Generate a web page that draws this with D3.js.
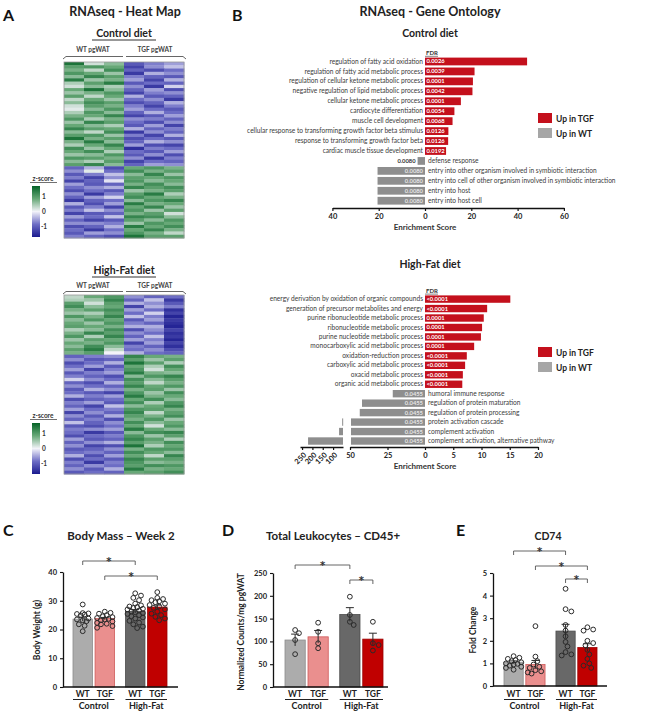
<!DOCTYPE html>
<html><head><meta charset="utf-8">
<script src="https://cdn.jsdelivr.net/npm/d3@7"></script>
<style>body{margin:0;background:#fff}svg{font-family:Lato,'Open Sans',sans-serif}</style>
</head><body><svg id="c" width="650" height="714"></svg>
<script>
// ---------------- DATA ----------------
const heatColumns = ["WT1","WT2","WT3","TGF1","TGF2","TGF3"];
const heatControl = [
[1.4,0.2,0.6,-1.0,-0.7,-0.5],[0.9,1.0,0.8,-1.2,-0.6,-0.3],[0.7,0.3,1.1,-0.9,-1.1,-0.8],[1.0,0.8,0.5,-1.3,-0.4,-0.6],
[0.6,1.2,0.9,-0.7,-0.9,-1.0],[1.3,0.5,0.7,-0.5,-1.2,-0.4],[0.4,0.9,1.3,-1.0,-0.8,-0.9],[0.2,0.6,0.4,-0.6,-1.3,-0.2],
[0.8,1.4,0.6,-0.9,-0.5,-1.1],[0.5,0.7,1.0,-1.2,-0.7,-0.6],[0.9,0.3,0.8,-0.4,-1.0,-0.9],[0.3,0.8,0.5,-0.8,-0.6,-1.3],
[0.6,1.1,0.9,-1.1,-0.9,-0.4],[0.2,0.9,0.7,-0.7,-1.2,-0.7],[0.1,0.6,1.0,-0.5,-0.8,-1.0],[0.4,1.0,0.6,-0.9,-0.4,-0.8],
[0.7,0.8,1.2,-1.2,-1.0,-0.5],[1.0,0.4,0.7,-0.6,-0.7,-0.9],[0.5,1.2,0.9,-0.8,-1.1,-0.6],[0.8,0.6,0.4,-1.0,-0.5,-1.2],
[1.2,0.9,0.8,-0.4,-0.9,-0.7],[0.6,0.3,1.1,-1.3,-0.6,-0.9],[0.9,1.0,0.5,-0.7,-1.2,-0.4],[1.4,0.7,0.9,-1.1,-0.8,-1.0],
[0.7,1.3,0.6,-0.9,-0.4,-0.6],[0.4,0.8,1.2,-0.5,-1.1,-1.2],[1.1,0.5,0.8,-1.4,-0.7,-0.8],[0.8,1.1,0.4,-0.8,-1.0,-0.5],
[0.5,0.6,1.0,-1.0,-0.6,-1.1],[1.0,0.9,0.7,-0.6,-1.3,-0.7],[0.6,0.4,0.9,-1.2,-0.8,-0.9],[0.9,1.2,0.6,-0.9,-0.5,-0.6],
[-0.9,-0.4,-1.1,0.8,1.0,0.7],[-0.6,0.1,-0.8,1.1,0.7,0.9],[-1.0,-0.7,-0.3,0.6,1.2,0.5],[-0.7,-1.2,-0.6,0.9,0.8,1.0],
[-1.2,-0.9,-0.1,1.0,0.6,0.8],[-0.5,-1.0,-0.9,0.7,1.1,0.6],[-0.8,-0.6,-0.4,1.2,0.9,1.1],[-1.1,-0.8,-1.0,0.5,0.7,0.9],
[-0.6,-1.3,-0.7,0.9,1.3,0.4],[-0.9,-0.5,-0.2,1.1,0.8,0.7],[-1.3,-0.9,-0.8,0.6,1.0,1.2],[-0.4,-1.1,-0.5,1.3,0.7,0.8],
[-1.0,-0.7,-1.2,0.8,1.2,0.5],[-0.7,-0.3,-0.6,1.0,0.5,0.9],[-1.2,-1.0,-0.9,0.7,0.9,0.2],[-0.5,-0.8,-0.3,1.2,1.1,0.6],
[-0.9,-1.2,-1.0,0.9,0.6,1.0],[-0.6,-0.6,-0.7,0.5,1.0,0.8],[-1.1,-0.9,-0.4,1.3,0.8,1.1],[-0.8,-1.3,-0.8,0.8,1.2,0.7],
[-1.0,-0.5,-0.6,1.0,0.7,0.3],[-0.7,-0.9,-1.1,1.4,0.9,0.9]];
const heatHighFat = [
[0.3,0.8,1.0,-0.6,-0.9,-0.8],[0.4,0.5,1.2,-0.9,-0.3,-1.3],[0.9,0.2,0.9,-0.4,-0.6,-1.0],[1.1,0.6,0.8,-1.2,-0.4,-0.7],
[0.7,0.9,1.1,-0.5,-0.8,-1.4],[0.5,0.4,0.9,-0.8,-0.2,-1.2],[1.0,0.7,1.2,-0.3,-0.7,-1.5],[0.6,1.0,0.8,-1.0,-0.5,-1.3],
[0.8,0.5,1.0,-0.7,-0.9,-1.4],[0.9,0.8,0.7,-0.4,-0.4,-1.5],[0.4,0.6,1.1,-1.1,-0.6,-1.2],[0.7,1.2,0.9,-0.6,-0.8,-1.4],
[1.0,0.4,1.2,-0.9,-0.3,-1.3],[0.5,0.9,0.8,-0.5,-0.7,-1.5],[0.8,0.7,1.0,-1.2,-0.5,-1.2],[0.6,1.1,0.6,-0.7,-0.9,-1.4],
[0.9,1.3,0.3,-0.8,-0.6,-1.1],[0.7,0.9,0.0,-0.4,-0.8,-0.9],
[-0.9,-0.7,-0.6,1.2,0.8,0.7],[-0.6,-1.0,-0.9,0.9,0.5,0.9],[-1.1,-0.8,-0.4,1.4,0.9,0.4],[-0.8,-0.5,-1.0,0.8,0.4,1.1],
[-0.5,-1.2,-0.7,1.0,0.2,0.8],[-1.0,-0.7,-0.5,1.3,0.7,0.6],[-0.7,-0.9,-1.1,0.6,1.0,1.2],[-0.2,-0.6,-0.8,1.1,0.6,0.9],
[-0.9,-1.1,-0.4,0.9,0.3,0.7],[-0.6,-0.8,-0.9,1.2,0.8,1.0],[-1.0,-0.4,-0.6,0.7,0.9,0.5],[-0.8,-1.0,-1.2,1.0,0.5,1.1],
[-0.4,-0.7,-0.5,1.3,0.7,0.8],[-1.1,-0.9,-0.8,0.8,1.1,0.6],[-0.7,-0.5,-1.0,1.1,0.4,1.0],[-0.9,-1.2,-0.3,0.6,0.8,1.2],
[-0.5,-0.8,-0.7,1.0,0.9,0.7],[-1.2,-0.6,-0.9,1.2,0.3,0.9],[-0.6,-1.0,-0.4,0.9,0.7,1.1],[-0.9,-0.7,-1.1,0.7,1.0,0.5],
[-0.3,-0.9,-0.6,1.1,0.6,0.8],[-1.0,-1.1,-0.8,0.8,0.2,1.0],[-0.7,-0.6,-0.5,1.3,0.8,0.6],[-0.8,-1.3,-1.0,0.6,1.1,1.2],
[-1.1,-0.8,-0.7,1.0,0.5,0.9],[-0.5,-1.0,-0.9,1.2,0.9,0.4],[-0.9,-0.6,-0.4,0.9,0.7,1.1],[-0.6,-1.2,-1.1,1.4,0.4,0.8],
[-1.0,-0.9,-0.6,0.7,1.0,1.0],[-0.8,-0.7,-0.9,1.1,0.8,0.6],[-0.4,-1.1,-0.5,0.8,0.3,1.2],[-1.1,-0.8,-1.0,1.2,0.9,0.9],
[-0.7,-1.3,-0.7,1.0,0.6,0.7],[-0.9,-0.6,-0.8,0.9,1.1,1.0],[-0.6,-1.0,-0.4,1.3,0.7,0.8],[-1.0,-0.8,-0.9,0.8,0.9,1.1]];
const zScoreTicks = [1,0,-1];

const goControlTerms = ["regulation of fatty acid oxidation","regulation of fatty acid metabolic process","regulation of cellular ketone metabolic process","negative regulation of lipid metabolic process","cellular ketone metabolic process","cardiocyte differentiation","muscle cell development","cellular response to transforming growth factor beta stimulus","response to transforming growth factor beta","cardiac muscle tissue development","defense response","entry into other organism involved in symbiotic interaction","entry into cell of other organism involved in symbiotic interaction","entry into host","entry into host cell"];
const goControlScores = [44.1,21.4,20.7,20.5,15.5,12.7,11.9,10.1,10.0,9.1,-3.2,-20.5,-20.5,-20.5,-20.5];
const goControlFDR = ["0.0026","0.0039","0.0001","0.0042","0.0001","0.0054","0.0068","0.0126","0.0126","0.0192","0.0080","0.0080","0.0080","0.0080","0.0080"];
const goControlTicks = [-40,-20,0,20,40,60];

const goHFTerms = ["energy derivation by oxidation of organic compounds","generation of precursor metabolites and energy","purine ribonucleotide metabolic process","ribonucleotide metabolic process","purine nucleotide metabolic process","monocarboxylic acid metabolic process","oxidation-reduction process","carboxylic acid metabolic process","oxacid metabolic process","organic acid metabolic process","humoral immune response","regulation of protein maturation","regulation of protein processing","protein activation cascade","complement activation","complement activation, alternative pathway"];
const goHFScores = [15.1,11.0,10.4,10.1,9.9,8.7,7.4,7.1,6.7,6.6,-21.5,-42,-43.5,-56,-71,-221];
const goHFFDR = ["<0.0001","<0.0001","0.0001","0.0001","0.0001","0.0001","<0.0001","<0.0001","<0.0001","<0.0001","0.0455","0.0455","0.0455","0.0455","0.0455","0.0455"];
const goHFTicksMain = [-50,-25,0,5,10,15,20];
const goHFTicksBreak = [-250,-200,-150,-100];
const goLegend = ["Up in TGF","Up in WT"];

const diets = ["Control","High-Fat"];
const genotypes = ["WT","TGF"];
const bodyMassMean = [23.6,23.8,26.3,27.8];
const bodyMassSEM = [0.7,0.4,0.6,0.7];
const bodyMassPoints = [
 [28.7,25.7,25.4,25.2,25.6,24.9,23.8,23.2,23.5,22.9,21.3,21.8,19.4],
 [26.2,25.8,25.5,25.0,24.6,24.3,24.0,23.7,23.5,23.2,22.8,22.3,21.8,21.2,20.6,22.0],
 [32.6,31.8,31.0,30.2,29.0,28.4,28.0,27.8,27.5,27.2,27.0,26.6,26.3,26.0,25.7,25.4,25.0,24.6,24.2,23.8,23.0,22.4,21.8,21.0,20.5],
 [33.0,31.0,30.6,30.2,29.8,29.5,29.0,28.5,28.0,27.5,27.0,26.2,25.5,25.0,24.4,23.8,23.2]];
const bodyMassTicks = [0,10,20,30,40];

const cd45Mean = [103,110,159,105];
const cd45SEM = [13,14,15,13];
const cd45Points = [[125,118,103,72],[141,121,96,85],[198,158,143,136],[143,96,92,80]];
const cd45Ticks = [0,50,100,150,200,250];

const cd74Mean = [1.05,0.95,2.43,1.70];
const cd74SEM = [0.06,0.18,0.3,0.17];
const cd74Points = [
 [1.32,1.25,1.2,1.15,1.1,1.05,1.0,0.98,0.95,0.9,0.85,0.8,0.72],
 [2.65,1.3,1.1,0.95,0.85,0.8,0.7,0.65,0.6,0.55],
 [4.3,3.4,3.3,2.7,2.45,2.2,1.95,1.75,1.5,1.4,1.35],
 [2.6,2.5,2.45,2.0,1.9,1.8,1.6,1.4,1.2,1.0,0.9,0.8]];
const cd74Ticks = [0,1,2,3,4,5];

// ---------------- DRAWING ----------------
const svg = d3.select("#c");
function text(g, x, y, s, o = {}) {
  const t = g.append("text").attr("x", x).attr("y", y).text(s)
    .attr("font-size", o.size || 8).attr("font-weight", o.weight || "normal")
    .attr("text-anchor", o.anchor || "start").attr("fill", o.fill || "#222");
  if (o.family) t.attr("font-family", o.family);
  return t;
}
const heatColor = d3.scaleLinear().domain([-1.6,-0.8,0,0.8,1.6])
  .range(["#1b1b8f","#6d6dc5","#f3f3f9","#67a877","#046226"]).clamp(true);

// Panel letters & titles
text(svg, 3, 21, "A", {size: 16, weight: "bold", fill: "#111"});
text(svg, 125, 16, "RNAseq - Heat Map", {size: 12.5, weight: "bold", anchor: "middle"});
text(svg, 232, 21, "B", {size: 16, weight: "bold", fill: "#111"});
text(svg, 430, 16, "RNAseq - Gene Ontology", {size: 12.5, weight: "bold", anchor: "middle"});

function heatmap(data, c) {
  const g = svg.append("g");
  const x = d3.scaleBand().domain(heatColumns).range([64, 184]);
  const y = d3.scaleBand().domain(d3.range(data.length)).range([c.top, c.bottom]);
  data.forEach((row, i) => row.forEach((v, j) => {
    g.append("rect").attr("x", x(heatColumns[j])).attr("y", y(i))
      .attr("width", x.bandwidth() + 0.4).attr("height", y.bandwidth() + 0.4)
      .attr("fill", heatColor(v));
  }));
  g.append("rect").attr("x", 64).attr("y", c.top).attr("width", 120).attr("height", c.bottom - c.top)
    .attr("fill", "none").attr("stroke", "#9a9a9a").attr("stroke-width", 0.8);
  text(g, 124, c.titleY, c.title, {size: 10.5, weight: "bold", anchor: "middle"});
  g.append("line").attr("x1", 92).attr("x2", 156).attr("y1", c.titleY + 3).attr("y2", c.titleY + 3)
    .attr("stroke", "#333").attr("stroke-width", 1);
  text(g, 93, c.labelY, "WT pgWAT", {size: 6.5, weight: "bold", anchor: "middle", fill: "#444"});
  text(g, 155, c.labelY, "TGF pgWAT", {size: 6.5, weight: "bold", anchor: "middle", fill: "#444"});
  const b = c.bracketY;
  g.append("path").attr("d", `M63,${b+2.5} L66,${b} L123,${b}`).attr("fill", "none").attr("stroke", "#555").attr("stroke-width", 0.9);
  g.append("path").attr("d", `M126,${b} L183,${b} L186,${b+2.5}`).attr("fill", "none").attr("stroke", "#555").attr("stroke-width", 0.9);
  const id = "zg" + c.top;
  const grad = svg.append("defs").append("linearGradient").attr("id", id)
    .attr("x1", 0).attr("x2", 0).attr("y1", 1).attr("y2", 0);
  heatColor.domain().forEach((d, i, arr) => grad.append("stop")
    .attr("offset", (d - arr[0]) / (arr[arr.length - 1] - arr[0])).attr("stop-color", heatColor(d)));
  g.append("rect").attr("x", 32).attr("y", c.zTop).attr("width", 8).attr("height", c.zBottom - c.zTop)
    .attr("fill", `url(#${id})`);
  text(g, 43, c.zTop - 5, "z-score", {size: 6.5, weight: "bold", anchor: "middle", fill: "#333"});
  g.append("line").attr("x1", 30).attr("x2", 57).attr("y1", c.zTop - 3.5).attr("y2", c.zTop - 3.5).attr("stroke", "#333").attr("stroke-width", 0.7);
  const zs = d3.scaleLinear().domain([-1.7, 1.7]).range([c.zBottom, c.zTop]);
  zScoreTicks.forEach(v => text(g, 44, zs(v) + 2.2, v, {size: 6.5, weight: "bold", anchor: "middle", fill: "#333"}));
}
heatmap(heatControl, {top: 62, bottom: 238, title: "Control diet", titleY: 37, labelY: 52, bracketY: 56.5, zTop: 186, zBottom: 237});
heatmap(heatHighFat, {top: 295, bottom: 474, title: "High-Fat diet", titleY: 274, labelY: 287.5, bracketY: 291.5, zTop: 423, zBottom: 474});

// GO panels
const RED = "#c4101c", GRAY = "#8e8e8e";
function goPanel(c) {
  const g = svg.append("g");
  text(g, 430, c.titleY, c.title, {size: 10.5, weight: "bold", anchor: "middle"});
  const y = d3.scaleBand().domain(d3.range(c.terms.length)).range([c.top, c.bottom]).paddingInner(0.22);
  const x = c.x, x0 = x(0);
  text(g, x0 + 1, c.top - 2.5, "FDR", {size: 6, weight: "bold", fill: "#333"});
  g.append("line").attr("x1", x0).attr("x2", x0 + 13).attr("y1", c.top - 1.3).attr("y2", c.top - 1.3).attr("stroke", "#333").attr("stroke-width", 0.6);
  c.scores.forEach((s, i) => {
    const yy = y(i), h = y.bandwidth(), mid = yy + h / 2 + 2.1;
    if (s >= 0) {
      g.append("rect").attr("x", x0).attr("y", yy).attr("width", x(s) - x0).attr("height", h).attr("fill", RED);
      text(g, x0 - 2, mid, c.terms[i], {size: 6.6, anchor: "end", fill: "#3a3a3a"});
      text(g, x0 + 1.5, mid - 0.1, c.fdr[i], {size: 5.8, weight: "bold", fill: "#fff"});
    } else {
      let start;
      if (c.xb && s < c.x.domain()[0]) {
        start = x(c.x.domain()[0]);
        g.append("rect").attr("x", start + 1).attr("y", yy).attr("width", x0 - start - 1).attr("height", h).attr("fill", GRAY);
        const bx = c.xb(s), be = c.xb.range()[1];
        g.append("rect").attr("x", bx).attr("y", yy).attr("width", Math.max(1, be - bx)).attr("height", h).attr("fill", GRAY);
      } else {
        start = x(s);
        g.append("rect").attr("x", start).attr("y", yy).attr("width", x0 - start).attr("height", h).attr("fill", GRAY);
      }
      text(g, x0 + 3, mid, c.terms[i], {size: 6.6, fill: "#3a3a3a"});
      if (x0 - start > 22) text(g, x0 - 2, mid - 0.1, c.fdr[i], {size: 5.8, weight: "bold", anchor: "end", fill: "#e6e6e6"});
      else text(g, start - 2, mid - 0.1, c.fdr[i], {size: 5.8, weight: "bold", anchor: "end", fill: "#333"});
    }
  });
  const ax = g.append("g").attr("transform", `translate(0,${c.axisY})`)
    .call(d3.axisBottom(x).tickValues(c.ticks).tickFormat(d => Math.abs(d)).tickSize(3).tickSizeOuter(0));
  ax.select(".domain").attr("stroke", "#111").attr("stroke-width", 1.6);
  ax.selectAll(".tick line").attr("stroke", "#111").attr("stroke-width", 1.2);
  ax.selectAll(".tick text").attr("font-size", 7.5).attr("font-weight", "bold").attr("fill", "#222").attr("font-family", "Lato, sans-serif");
  if (c.xb) {
    const ab = g.append("g").attr("transform", `translate(0,${c.axisY})`)
      .call(d3.axisBottom(c.xb).tickValues(c.ticksBreak).tickFormat(d => Math.abs(d)).tickSize(3).tickSizeOuter(0));
    ab.select(".domain").attr("stroke", "#111").attr("stroke-width", 1.6);
    ab.selectAll(".tick line").attr("stroke", "#111").attr("stroke-width", 1.2);
    ab.selectAll(".tick text").attr("font-size", 7.5).attr("font-weight", "bold").attr("fill", "#222").attr("font-family", "Lato, sans-serif")
      .attr("text-anchor", "end").attr("dy", 0).attr("y", 4).attr("transform", "rotate(-45) translate(-3,5)");
  }
  text(g, x0, c.axisY + 22, "Enrichment Score", {size: 8, weight: "bold", anchor: "middle", fill: "#333"});
  [RED, "#a6a6a6"].forEach((col, i) => {
    g.append("rect").attr("x", 538).attr("y", c.legY + i * 15).attr("width", 14).attr("height", 10).attr("fill", col);
    text(g, 556, c.legY + i * 15 + 8.5, goLegend[i], {size: 8.5, weight: "bold", fill: "#222"});
  });
}
goPanel({title: "Control diet", titleY: 37, terms: goControlTerms, scores: goControlScores, fdr: goControlFDR,
  top: 57.6, bottom: 204.6, x: d3.scaleLinear().domain([-40, 60]).range([332.4, 563.9]), ticks: goControlTicks, axisY: 208, legY: 113});
goPanel({title: "High-Fat diet", titleY: 268, terms: goHFTerms, scores: goHFScores, fdr: goHFFDR,
  top: 295.4, bottom: 444.7, x: d3.scaleLinear().domain([-50, 0, 20]).range([350, 425, 538]), ticks: goHFTicksMain,
  xb: d3.scaleLinear().domain([-260, -52]).range([300, 343]), ticksBreak: goHFTicksBreak, axisY: 447, legY: 347});

// Bar panels
const barFill = ["#acacac","#ea8f8e","#686868","#c00000"];
const barStroke = ["#8c8c8c","#cf5a59","#4c4c4c","#990000"];
function swarm(vals, y, r, maxOff) {
  const placed = [];
  const out = new Array(vals.length);
  const order = vals.map((v, i) => ({v, i, y: y(v)})).sort((a, b) => b.v - a.v);
  order.forEach(p => {
    let best = 0, bestD = -1;
    for (let k = 0; k < 24; k++) {
      const cand = k === 0 ? 0 : (k % 2 ? 1 : -1) * Math.ceil(k / 2) * r * 0.8;
      if (Math.abs(cand) > maxOff) continue;
      const d = placed.length ? d3.min(placed, q => Math.hypot(q.dx - cand, q.y - p.y)) : 99;
      if (d >= 2 * r) { best = cand; bestD = d; break; }
      if (d > bestD) { bestD = d; best = cand; }
    }
    placed.push({dx: best, y: p.y});
    out[p.i] = best;
  });
  return out;
}
function barPanel(c) {
  const g = svg.append("g");
  text(g, c.letterX, 536, c.letter, {size: 16, weight: "bold", fill: "#111"});
  text(g, c.titleX, 540, c.title, {size: c.titleSize || 11.5, weight: "bold", anchor: "middle"});
  const y = d3.scaleLinear().domain([0, c.max]).range([c.y0, c.yTop]);
  const outer = d3.scaleBand().domain(diets).range(c.range).paddingInner(0.21);
  const inner = d3.scaleBand().domain(genotypes).range([0, outer.bandwidth()]).paddingInner(0.12);
  const cx = [], bx = [];
  diets.forEach(d => genotypes.forEach(gt => { bx.push(outer(d) + inner(gt)); cx.push(outer(d) + inner(gt) + inner.bandwidth() / 2); }));
  c.means.forEach((m, i) => {
    g.append("rect").attr("x", bx[i]).attr("y", y(m)).attr("width", inner.bandwidth()).attr("height", y(0) - y(m))
      .attr("fill", barFill[i]).attr("stroke", barStroke[i]).attr("stroke-width", 0.8);
  });
  c.means.forEach((m, i) => {
    const top = y(m + c.sems[i]), bot = y(m - c.sems[i]);
    g.append("line").attr("x1", cx[i]).attr("x2", cx[i]).attr("y1", top).attr("y2", bot).attr("stroke", "#2a2a2a").attr("stroke-width", 1);
    g.append("line").attr("x1", cx[i] - 4).attr("x2", cx[i] + 4).attr("y1", top).attr("y2", top).attr("stroke", "#2a2a2a").attr("stroke-width", 1);
  });
  c.points.forEach((pts, i) => {
    const offs = swarm(pts, y, 2.4, inner.bandwidth() / 2 - 1.5);
    pts.forEach((v, k) => g.append("circle").attr("cx", cx[i] + offs[k]).attr("cy", y(v)).attr("r", 2.4)
      .attr("fill", "none").attr("stroke", "#2b2b2b").attr("stroke-width", 1));
  });
  const ay = g.append("g").attr("transform", `translate(${c.axisX},0)`)
    .call(d3.axisLeft(y).tickValues(c.ticks).tickFormat(d3.format("d")).tickSize(3).tickSizeOuter(0));
  ay.select(".domain").attr("stroke", "#111").attr("stroke-width", 1.3);
  ay.selectAll(".tick line").attr("stroke", "#111").attr("stroke-width", 1.1);
  ay.selectAll(".tick text").attr("font-size", 7.5).attr("font-weight", "bold").attr("fill", "#222").attr("font-family", "Lato, sans-serif");
  g.append("line").attr("x1", c.axisX).attr("x2", c.axisEnd).attr("y1", c.y0).attr("y2", c.y0).attr("stroke", "#111").attr("stroke-width", 1.3);
  text(g, 0, 0, c.ylabel, {size: 8.5, weight: "bold", anchor: "middle"}).attr("transform", `translate(${c.ylabelX},${c.ylabelY}) rotate(-90)`);
  cx.forEach((x, i) => text(g, x, 697, genotypes[i % 2], {size: 8.5, weight: "bold", anchor: "middle"}));
  diets.forEach(d => {
    g.append("line").attr("x1", outer(d)).attr("x2", outer(d) + outer.bandwidth()).attr("y1", 699.5).attr("y2", 699.5).attr("stroke", "#222").attr("stroke-width", 1);
    text(g, outer(d) + outer.bandwidth() / 2, 709, d, {size: 9, weight: "bold", anchor: "middle"});
  });
  c.brackets.forEach(([a, b, yy]) => {
    g.append("path").attr("d", `M${cx[a]},${yy + 4}V${yy}H${cx[b]}V${yy + 4}`).attr("fill", "none").attr("stroke", "#555").attr("stroke-width", 0.9);
    text(g, (cx[a] + cx[b]) / 2, yy + 3.5, "*", {size: 10, weight: "bold", anchor: "middle", fill: "#333", family: "'DejaVu Sans', sans-serif"});
  });
}
barPanel({letter: "C", letterX: 3, title: "Body Mass \u2013 Week 2", titleX: 121, max: 40, y0: 687, yTop: 572, axisX: 63, axisEnd: 178,
  range: [73, 167], means: bodyMassMean, sems: bodyMassSEM, points: bodyMassPoints, ticks: bodyMassTicks,
  ylabel: "Body Weight (g)", ylabelX: 40, ylabelY: 630, brackets: [[0, 2, 561], [1, 3, 576]]});
barPanel({letter: "D", letterX: 222, title: "Total Leukocytes \u2013 CD45+", titleX: 333, max: 250, y0: 687, yTop: 573, axisX: 273, axisEnd: 388,
  range: [285, 383], means: cd45Mean, sems: cd45SEM, points: cd45Points, ticks: cd45Ticks,
  ylabel: "Normalized Counts/mg pgWAT", ylabelX: 244, ylabelY: 632, brackets: [[0, 2, 565], [2, 3, 580]]});
barPanel({letter: "E", letterX: 456, title: "CD74", titleX: 548, titleSize: 10.5, max: 5, y0: 686, yTop: 573, axisX: 493, axisEnd: 607,
  range: [504, 597], means: cd74Mean, sems: cd74SEM, points: cd74Points, ticks: cd74Ticks,
  ylabel: "Fold Change", ylabelX: 476, ylabelY: 630, brackets: [[0, 2, 551], [1, 3, 566], [2, 3, 579]]});
</script></body></html>
